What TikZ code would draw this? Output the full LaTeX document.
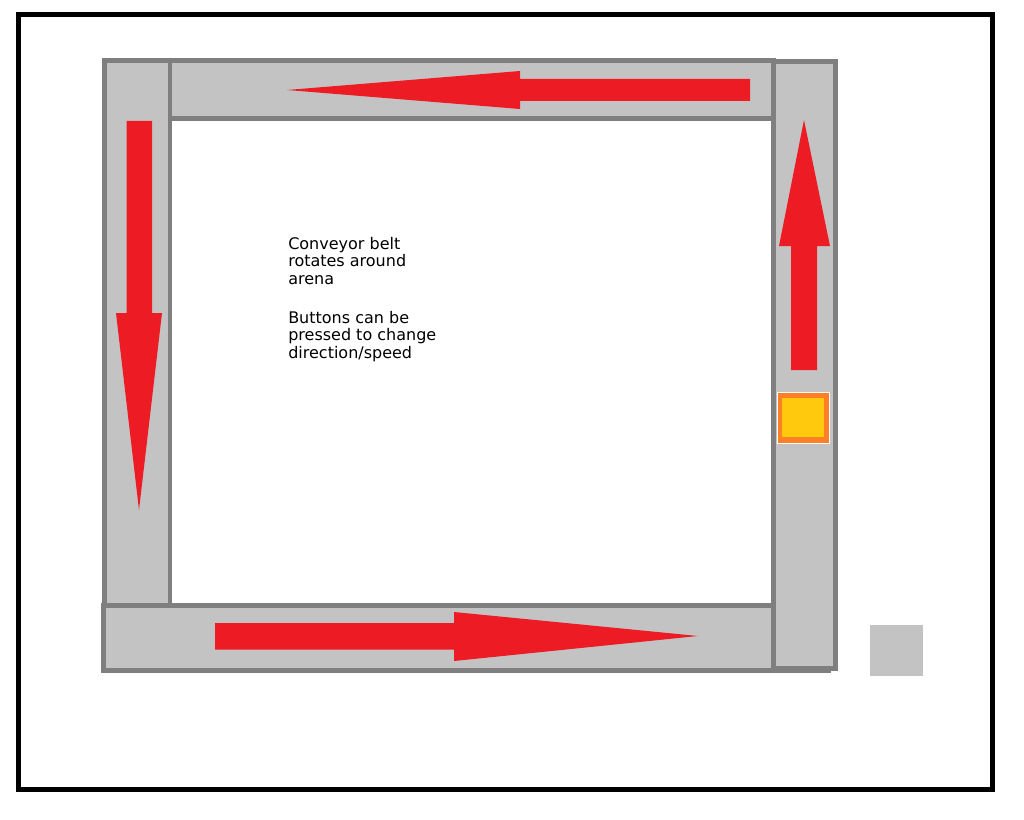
\documentclass[tikz,border=0pt]{standalone}
\usepackage{fontspec}
\setmainfont{DejaVu Sans}
\definecolor{beltgrey}{HTML}{C3C3C3}
\definecolor{beltedge}{HTML}{7F7F7F}
\definecolor{arrowred}{HTML}{ED1C24}
\definecolor{btnorange}{HTML}{FF7F27}
\definecolor{btnyellow}{HTML}{FFC90E}
\tikzset{
  belt/.style={fill=beltgrey, draw=beltedge, line width=3.6pt},
  beltarrow/.style={fill=arrowred},
}
\begin{document}
\begin{tikzpicture}[x=0.75pt, y=-0.75pt]
    \useasboundingbox (0,0) rectangle (1024,820);
    \draw[line width=3.75pt] (18.5,14.5) rectangle (992.5,789.5);
    % belt segments
    \draw[belt] (104.5,60.5) rectangle (170,605.5);
    \draw[belt] (170,60.5) rectangle (773.5,118.5);
    \draw[belt] (773.5,61.5) rectangle (835.5,668.5);
    \draw[belt] (103.5,605.5) rectangle (773.5,670.5);
    \draw[beltedge, line width=3.6pt] (773.5,670.5) -- (831,670.5);
    % arrows
    \coordinate (TopTip) at (287,90);
    \coordinate (LeftTip) at (139,510);
    \coordinate (BotTip) at (698,636);
    \coordinate (RightTip) at (804,120);
    \fill[beltarrow] (TopTip) -- (520,109) -- (520,101) -- (750,101) -- (750,79) -- (520,79) -- (520,71) -- cycle;
    \fill[beltarrow] (LeftTip) -- (116,313) -- (126.5,313) -- (126.5,121) -- (152,121) -- (152,313) -- (162,313) -- cycle;
    \fill[beltarrow] (BotTip) -- (454,612) -- (454,623) -- (215,623) -- (215,649.5) -- (454,649.5) -- (454,661) -- cycle;
    \fill[beltarrow] (RightTip) -- (779,246) -- (791,246) -- (791,370) -- (817,370) -- (817,246) -- (830,246) -- cycle;
    % button and spare block
    \draw[white, fill=btnorange, line width=0.75pt] (777,392) rectangle (829,443);
    \fill[btnyellow] (782,398) rectangle (824,437);
    \fill[beltgrey] (870,625) rectangle (923,676);
    \node[anchor=base west, align=left, inner sep=0pt, font=\fontsize{12}{13.1}\selectfont] (note) at (288,358)
      {Conveyor belt\\rotates around\\arena\\[16pt]Buttons can be\\pressed to change\\direction/speed};
\end{tikzpicture}
\end{document}
